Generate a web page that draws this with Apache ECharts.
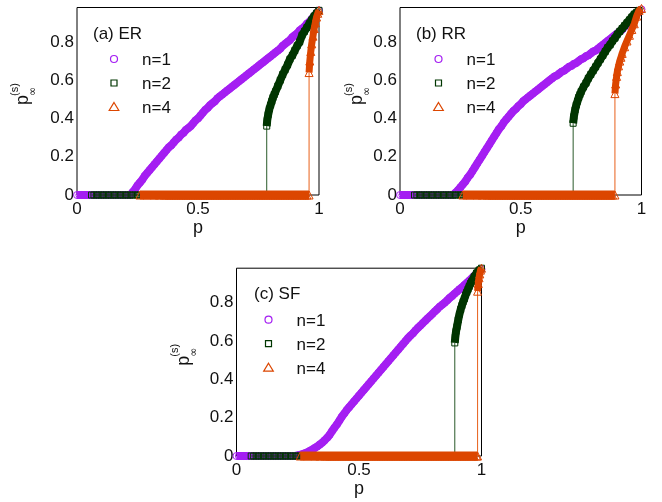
<!DOCTYPE html>
<html><head><meta charset="utf-8">
<script src="https://cdn.jsdelivr.net/npm/echarts/dist/echarts.min.js"></script>
<style>html,body{margin:0;padding:0;background:#fff}#c{width:662px;height:502px}</style>
</head><body><div id="c"></div>
<script>
// shared p grid
const pGrid = [0,0.01,0.02,0.03,0.04,0.05,0.06,0.07,0.08,0.09,
0.10,0.11,0.12,0.13,0.14,0.15,0.16,0.17,0.18,0.19,
0.20,0.21,0.22,0.23,0.24,0.25,0.26,0.27,0.28,0.29,
0.30,0.31,0.32,0.33,0.34,0.35,0.36,0.37,0.38,0.39,
0.40,0.41,0.42,0.43,0.44,0.45,0.46,0.47,0.48,0.49,
0.50,0.51,0.52,0.53,0.54,0.55,0.56,0.57,0.58,0.59,
0.60,0.61,0.62,0.63,0.64,0.65,0.66,0.67,0.68,0.69,
0.70,0.71,0.72,0.73,0.74,0.75,0.76,0.77,0.78,0.79,
0.80,0.81,0.82,0.83,0.84,0.85,0.86,0.87,0.88,0.89,
0.90,0.91,0.92,0.93,0.94,0.95,0.96,0.97,0.98,0.99,1.00];
const orangeStartP = [0.26,0.29,0.32,0.34,0.36];

// (a) ER
const erN1 = [0,0,0,0,0,0,0,0,0,0, 0,0,0,0,0,0,0,0,0,0, 0,0,
0.00,0.015,0.03,0.05,0.065,0.08,0.10,0.115,0.13,0.145,
0.16,0.175,0.19,0.205,0.22,0.235,0.25,0.26,0.275,0.29,
0.30,0.315,0.325,0.34,0.35,0.36,0.375,0.39,0.40,0.415,
0.43,0.445,0.455,0.47,0.48,0.49,0.505,0.515,0.525,0.535,
0.545,0.555,0.565,0.575,0.585,0.595,0.605,0.615,0.625,0.635,
0.645,0.655,0.665,0.675,0.685,0.695,0.705,0.715,0.725,0.735,
0.745,0.755,0.765,0.78,0.79,0.80,0.81,0.825,0.835,0.845,
0.86,0.87,0.88,0.895,0.905,0.92,0.935,0.95,0.965];
const erN2P = pGrid.slice(6, 79).concat([0.784,0.784,0.786,0.79,0.795,0.80,0.805,0.81,0.815,0.82,0.83,0.84,0.85,0.86,0.87,0.88,0.89,0.90,0.91,0.92,0.93,0.94,0.95,0.96,0.97,0.98,0.99,1.00]);
const erN2 = [0,0,0,0,0,0,0,0,0,0, 0,0,0,0,0,0,0,0,0,0, 0,0,0,0,0,0,0,0,0,0,
0,0,0,0,0,0,0,0,0,0, 0,0,0,0,0,0,0,0,0,0, 0,0,0,0,0,0,0,0,0,0, 0,0,0,0,0,0,0,0,0,0, 0,0,0,
0,0.36,0.39,0.42,0.45,0.47,0.49,0.51,0.525,0.54,0.57,0.60,0.63,0.655,0.68,0.71,0.73,0.755,0.78,0.80,0.835,0.855,0.875,0.895,0.915,0.935,0.95,0.965];
const erN4P = orangeStartP.concat(pGrid.slice(37, 96)).concat([0.959,0.959,0.962,0.966,0.97,0.975,0.98,0.985,0.99,0.995,1.00]);
const erN4 = [0,0,0,0,0,0,0,0,0,0, 0,0,0,0,0,0,0,0,0,0, 0,0,0,0,0,0,0,0,0,0,
0,0,0,0,0,0,0,0,0,0, 0,0,0,0,0,0,0,0,0,0, 0,0,0,0,0,0,0,0,0,0, 0,0,0,0,
0,0.64,0.70,0.75,0.79,0.83,0.87,0.90,0.93,0.95,0.965];

// (b) RR
const rrN1 = [0,0,0,0,0,0,0,0,0,0, 0,0,0,0,0,0,0,0,0,0, 0,0,
0.00,0.012,0.025,0.04,0.055,0.07,0.09,0.105,0.125,0.145,
0.165,0.185,0.205,0.225,0.245,0.265,0.285,0.305,0.325,0.345,
0.36,0.38,0.395,0.41,0.425,0.44,0.45,0.465,0.475,0.49,
0.50,0.51,0.52,0.53,0.54,0.55,0.56,0.57,0.58,0.59,
0.60,0.61,0.62,0.625,0.635,0.645,0.65,0.66,0.67,0.675,
0.685,0.69,0.70,0.71,0.715,0.725,0.73,0.74,0.75,0.755,
0.765,0.775,0.785,0.795,0.805,0.815,0.825,0.835,0.845,0.855,
0.865,0.88,0.89,0.90,0.915,0.93,0.945,0.96,0.97];
const rrN2P = pGrid.slice(6, 72).concat([0.717,0.717,0.72,0.725,0.73,0.735,0.74,0.745,0.75,0.76,0.77,0.78,0.79,0.80,0.81,0.82,0.83,0.84,0.85,0.86,0.87,0.88,0.89,0.90,0.91,0.92,0.93,0.94,0.95,0.96,0.97,0.98,0.99]);
const rrN2 = [0,0,0,0,0,0,0,0,0,0, 0,0,0,0,0,0,0,0,0,0, 0,0,0,0,0,0,0,0,0,0,
0,0,0,0,0,0,0,0,0,0, 0,0,0,0,0,0,0,0,0,0, 0,0,0,0,0,0,0,0,0,0, 0,0,0,0,0,0,
0,0.375,0.41,0.445,0.47,0.49,0.51,0.525,0.54,0.565,0.585,0.61,0.63,0.65,0.67,0.69,0.71,0.73,0.75,0.77,0.785,0.805,0.82,0.84,0.855,0.87,0.885,0.90,0.915,0.93,0.945,0.955,0.965];
const rrN4P = orangeStartP.concat(pGrid.slice(37, 89)).concat([0.89,0.89,0.893,0.897,0.90,0.905,0.91,0.915,0.92,0.93,0.94,0.95,0.96,0.97,0.98,0.99,1.00]);
const rrN4 = [0,0,0,0,0,0,0,0,0,0, 0,0,0,0,0,0,0,0,0,0, 0,0,0,0,0,0,0,0,0,0,
0,0,0,0,0,0,0,0,0,0, 0,0,0,0,0,0,0,0,0,0, 0,0,0,0,0,0,0,
0,0.53,0.58,0.62,0.645,0.675,0.70,0.72,0.74,0.775,0.805,0.835,0.865,0.895,0.935,0.965,0.975];

// (c) SF
const sfN1 = [0,0,0,0,0,0,0,0,0,0, 0,0,0,0,0,0,0,0,0,0, 0,0,0,0,0,
0.003,0.006,0.01,0.015,0.02,0.027,0.034,0.042,0.05,0.06,
0.07,0.082,0.095,0.11,0.13,0.148,0.165,0.185,0.205,0.222,
0.24,0.255,0.27,0.285,0.30,0.315,0.33,0.345,0.36,0.375,
0.39,0.405,0.42,0.435,0.45,0.465,0.48,0.495,0.51,0.525,
0.54,0.555,0.57,0.585,0.60,0.615,0.628,0.64,0.655,0.668,
0.68,0.693,0.705,0.718,0.73,0.742,0.755,0.767,0.78,0.79,
0.80,0.812,0.825,0.835,0.847,0.858,0.87,0.88,0.892,0.903,
0.915,0.927,0.94,0.952,0.963,0.975];
const sfN2P = pGrid.slice(6, 89).concat([0.891,0.891,0.893,0.896,0.90,0.905,0.91,0.915,0.92,0.925,0.93,0.935,0.94,0.945,0.95,0.955,0.96,0.97,0.98,0.99,1.00]);
const sfN2 = [0,0,0,0,0,0,0,0,0,0, 0,0,0,0,0,0,0,0,0,0, 0,0,0,0,0,0,0,0,0,0,
0,0,0,0,0,0,0,0,0,0, 0,0,0,0,0,0,0,0,0,0, 0,0,0,0,0,0,0,0,0,0, 0,0,0,0,0,0,0,0,0,0,
0,0,0,0,0,0,0,0,0,0, 0,0,0,
0,0.59,0.62,0.65,0.675,0.71,0.74,0.765,0.785,0.805,0.82,0.84,0.855,0.87,0.885,0.90,0.91,0.935,0.955,0.97,0.98];
const sfN4P = orangeStartP.concat(pGrid.slice(37, 99)).concat([0.984,0.984,0.987,0.99,0.993,0.996,1.00]);
const sfN4 = [0,0,0,0,0,0,0,0,0,0, 0,0,0,0,0,0,0,0,0,0, 0,0,0,0,0,0,0,0,0,0,
0,0,0,0,0,0,0,0,0,0, 0,0,0,0,0,0,0,0,0,0, 0,0,0,0,0,0,0,0,0,0, 0,0,0,0,0,0,0,
0,0.86,0.90,0.93,0.95,0.97,0.98];

const panelTitles = ['(a) ER', '(b) RR', '(c) SF'];
const seriesNames = ['n=1', 'n=2', 'n=4'];
const xTicks = [0, 0.5, 1];
const yTicks = [0, 0.2, 0.4, 0.6, 0.8];

const FONT = '"Liberation Sans", Arial, Helvetica, sans-serif';
const PURPLE = '#a41ef2', GREEN = '#003600', ORANGE = '#dc4600';
const GREEN_LINE = '#2a5a2a', ORANGE_LINE = '#e8601a';
const YMAX = 0.98;

const grids = [
  {left: 77, top: 7.5, width: 242, height: 187.5},
  {left: 400, top: 7.5, width: 241.5, height: 187.5},
  {left: 236.5, top: 268.2, width: 245, height: 187.8}
];
const legendPos = [
  {title: 16, mark: 37, text: 65, yname: -53.5},
  {title: 16, mark: 38.5, text: 66.5, yname: -42.5},
  {title: 17.5, mark: 32, text: 60, yname: -52.5}
];
const panelData = [
  [[pGrid, erN1], [erN2P, erN2], [erN4P, erN4]],
  [[pGrid, rrN1], [rrN2P, rrN2], [rrN4P, rrN4]],
  [[pGrid, sfN1], [sfN2P, sfN2], [sfN4P, sfN4]]
];
const styles = [
  {symbol: 'circle', size: 7, color: PURPLE, line: PURPLE, lowW: 8, upW: 8},
  {symbol: 'rect', size: 6, color: GREEN, line: GREEN_LINE, lowW: 1, upW: 8},
  {symbol: 'triangle', size: 8, color: ORANGE, line: ORANGE_LINE, lowW: 9, upW: 7}
];

function lineSeries(name, gi, pts, st, width, lineColor, withSymbols, z) {
  return {type: 'line', name: name, xAxisIndex: gi, yAxisIndex: gi, data: pts,
    symbol: withSymbols ? st.symbol : 'none', symbolSize: st.size, showAllSymbol: true, clip: false,
    itemStyle: {color: 'transparent', borderColor: st.color, borderWidth: 1},
    lineStyle: {color: lineColor, width: width, join: 'round', cap: 'butt'},
    emphasis: {disabled: true}, animation: false, z: z};
}

const series = [], xAxes = [], yAxes = [], graphics = [];
grids.forEach((g, gi) => {
  xAxes.push({type: 'value', gridIndex: gi, min: 0, max: 1, interval: 0.5,
    splitLine: {show: false}, axisTick: {show: false}, axisLine: {show: false},
    axisLabel: {fontSize: 17, color: '#111', margin: 6, fontFamily: FONT,
      formatter: v => xTicks.indexOf(+(+v).toFixed(2)) >= 0 ? String(+(+v).toFixed(2)) : ''},
    name: 'p', nameLocation: 'middle', nameGap: 20,
    nameTextStyle: {fontSize: 18, color: '#111', fontFamily: FONT}});
  yAxes.push({type: 'value', gridIndex: gi, min: 0, max: YMAX, interval: 0.2,
    splitLine: {show: false}, axisTick: {show: false}, axisLine: {show: false},
    axisLabel: {fontSize: 17, color: '#111', margin: 3, fontFamily: FONT,
      formatter: v => { const r = +(+v).toFixed(1); return (yTicks.indexOf(r) >= 0 && Math.abs(r - v) < 1e-6) ? String(r) : ''; }}});
  panelData[gi].forEach((sd, si) => {
    const st = styles[si];
    const pts = sd[0].map((p, i) => [p, sd[1][i]]);
    let j = -1;
    for (let i = 0; i < sd[0].length - 1; i++) { if (sd[0][i] === sd[0][i + 1]) { j = i; break; } }
    const z = 2 + si;
    if (j < 0) {
      series.push(lineSeries(seriesNames[si], gi, pts, st, st.upW, st.line, true, z));
    } else {
      series.push(lineSeries(seriesNames[si], gi, pts.slice(0, j + 1), st, st.lowW, st.lowW > 1 ? st.color : st.line, true, z));
      series.push(lineSeries(seriesNames[si], gi, pts.slice(j, j + 2), st, 1, st.line, false, z));
      series.push(lineSeries(seriesNames[si], gi, pts.slice(j + 1), st, st.upW, st.color, true, z));
    }
  });
  const lp = legendPos[gi];
  graphics.push({type: 'text', left: g.left + lp.title, top: g.top + 18,
    style: {text: panelTitles[gi], font: '17px ' + FONT, fill: '#111'}});
  const ys = [g.top + 51.5, g.top + 75.5, g.top + 99.5];
  graphics.push({type: 'circle', shape: {cx: g.left + lp.mark, cy: ys[0], r: 3.5},
    style: {fill: 'none', stroke: PURPLE, lineWidth: 1.2}});
  graphics.push({type: 'rect', shape: {x: g.left + lp.mark - 3, y: ys[1] - 3, width: 6, height: 6},
    style: {fill: 'none', stroke: GREEN, lineWidth: 1.2}});
  const tx = g.left + lp.mark, ty = ys[2];
  graphics.push({type: 'polygon', shape: {points: [[tx, ty - 4.5], [tx + 4.8, ty + 3.5], [tx - 4.8, ty + 3.5]]},
    style: {fill: 'none', stroke: ORANGE, lineWidth: 1.2}});
  seriesNames.forEach((n, k) => {
    graphics.push({type: 'text', x: g.left + lp.text, y: ys[k] + 1.5,
      style: {text: n, font: '17px ' + FONT, fill: '#111', verticalAlign: 'middle', align: 'left'}});
  });
  graphics.push({type: 'group', x: g.left + lp.yname, y: g.top + 97.5, rotation: Math.PI / 2,
    children: [
      {type: 'text', x: 0, y: 0, style: {text: 'p', font: '18px ' + FONT, fill: '#111', verticalAlign: 'middle', align: 'left'}},
      {type: 'text', x: 9, y: -9, style: {text: '(s)', font: '11px ' + FONT, fill: '#111', verticalAlign: 'middle', align: 'left'}},
      {type: 'text', x: 9, y: 10, style: {text: '\u221e', font: '11px "DejaVu Sans", ' + FONT, fill: '#111', verticalAlign: 'middle', align: 'left'}}
    ]});
});

const chart = echarts.init(document.getElementById('c'), null, {renderer: 'canvas'});
chart.setOption({
  animation: false,
  grid: grids.map(g => Object.assign({show: true, borderColor: '#000', borderWidth: 1, backgroundColor: 'transparent', containLabel: false}, g)),
  xAxis: xAxes, yAxis: yAxes, series: series, graphic: graphics
});
</script>
</body></html>
